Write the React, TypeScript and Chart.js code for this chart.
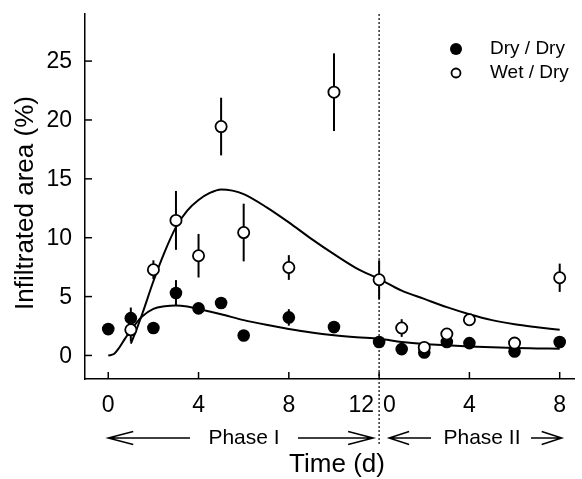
import React, { useEffect, useRef } from "react";
import { Chart, registerables } from "chart.js";

Chart.register(...registerables);

// ---- Data (Phase II days are plotted after an offset of 12 d) ----
const phase2Offset = 12;

const dryP1Days = [0, 1, 2, 3, 4, 5, 6, 8, 10, 12];
const dryP1 = [2.24, 3.17, 2.33, 5.3, 4.0, 4.45, 1.7, 3.23, 2.41, 1.14];
const dryP1Err = [0, 0.9, 0, 1.1, 0, 0, 0, 0.7, 0, 0];

const wetP1Days = [1, 2, 3, 4, 5, 6, 8, 10, 12];
const wetP1 = [2.18, 7.28, 11.47, 8.47, 19.44, 10.44, 7.47, 22.36, 6.43];
const wetP1Err = [1.0, 0.8, 2.5, 1.85, 2.45, 2.45, 1.05, 3.3, 1.65];

const p2Days = [1, 2, 3, 4, 6, 8];
const dryP2 = [0.54, 0.25, 1.14, 1.05, 0.34, 1.14];
const dryP2Err = [0, 0, 0, 0, 0, 0];
const wetP2 = [2.33, 0.68, 1.82, 3.03, 1.05, 6.6];
const wetP2Err = [0.75, 0, 0, 0, 0, 1.2];

// fitted curves (x on the combined axis)
const dryFitX = [0, 0.25, 0.5, 0.75, 1, 1.5, 2, 2.5, 3, 3.5, 4, 5, 6, 7, 8, 9, 10, 11, 12, 13, 14, 15, 16, 17, 18, 19, 20];
const dryFitY = [0, 0.12, 0.7, 1.45, 2.15, 3.3, 3.95, 4.17, 4.24, 4.15, 3.95, 3.5, 3.0, 2.6, 2.25, 1.95, 1.72, 1.55, 1.42, 1.15, 0.97, 0.86, 0.77, 0.7, 0.64, 0.6, 0.56];
const wetFitX = [1, 1.25, 1.5, 2, 2.5, 3, 3.5, 4, 4.5, 5, 5.5, 6, 7, 8, 9, 10, 11, 12, 13, 14, 15, 16, 17, 18, 19, 20];
const wetFitY = [1.0, 2.2, 3.5, 6.3, 8.8, 10.9, 12.3, 13.2, 13.8, 14.1, 14.0, 13.7, 12.6, 11.3, 9.9, 8.6, 7.4, 6.5, 5.5, 4.8, 4.1, 3.5, 3.0, 2.65, 2.4, 2.18];

// tick labels
const yTicks = [0, 5, 10, 15, 20, 25];
const xTickPos = [0, 4, 8, 16, 20];
const xTickLabels = ["0", "4", "8", "4", "8"];
const boundaryLabels = ["12", "0"];

const seriesNames = ["Dry / Dry", "Wet / Dry"];
const phaseNames = ["Phase I", "Phase II"];
const xTitle = "Time (d)";
const yTitle = "Infiltrated area (%)";

const FONT = '"Liberation Sans", Arial, Helvetica, sans-serif';

export default function App() {
  const ref = useRef<HTMLCanvasElement | null>(null);

  useEffect(() => {
    document.body.style.margin = "0";
    const canvas = ref.current;
    if (!canvas) return;

    const dryPts = [
      ...dryP1Days.map((d, i) => ({ x: d, y: dryP1[i], e: dryP1Err[i] })),
      ...p2Days.map((d, i) => ({ x: d + phase2Offset, y: dryP2[i], e: dryP2Err[i] })),
    ];
    const wetPts = [
      ...wetP1Days.map((d, i) => ({ x: d, y: wetP1[i], e: wetP1Err[i] })),
      ...p2Days.map((d, i) => ({ x: d + phase2Offset, y: wetP2[i], e: wetP2Err[i] })),
    ];

    const drawArrow = (ctx: CanvasRenderingContext2D, x1: number, x2: number, y: number, headAt: "left" | "right", hl: number) => {
      ctx.beginPath();
      ctx.moveTo(x1, y);
      ctx.lineTo(x2, y);
      const hx = headAt === "left" ? x1 : x2;
      const dir = headAt === "left" ? 1 : -1;
      ctx.moveTo(hx + dir * hl, y - 6.5);
      ctx.lineTo(hx, y);
      ctx.lineTo(hx + dir * hl, y + 6.5);
      ctx.stroke();
    };

    const custom = {
      id: "custom",
      beforeDatasetsDraw(chart: any) {
        const ctx = chart.ctx as CanvasRenderingContext2D;
        const xs = chart.scales.x;
        const ys = chart.scales.y;
        ctx.save();
        // dotted phase boundary
        const bx = xs.getPixelForValue(phase2Offset);
        ctx.strokeStyle = "#333";
        ctx.lineWidth = 1.5;
        ctx.setLineDash([2, 2]);
        ctx.beginPath();
        ctx.moveTo(bx, chart.chartArea.top);
        ctx.lineTo(bx, 446);
        ctx.stroke();
        ctx.setLineDash([]);
        // error bars
        ctx.strokeStyle = "#000";
        ctx.lineWidth = 2;
        [...dryPts, ...wetPts].forEach((p) => {
          if (!p.e) return;
          const px = xs.getPixelForValue(p.x);
          ctx.beginPath();
          ctx.moveTo(px, ys.getPixelForValue(p.y - p.e));
          ctx.lineTo(px, ys.getPixelForValue(p.y + p.e));
          ctx.stroke();
        });
        ctx.restore();
      },
      afterDraw(chart: any) {
        const ctx = chart.ctx as CanvasRenderingContext2D;
        const xs = chart.scales.x;
        const ys = chart.scales.y;
        const area = chart.chartArea;
        ctx.save();
        ctx.strokeStyle = "#000";
        ctx.fillStyle = "#000";
        ctx.lineWidth = 1.5;
        // y ticks (inward)
        yTicks.forEach((v) => {
          const py = ys.getPixelForValue(v);
          ctx.beginPath();
          ctx.moveTo(area.left, py);
          ctx.lineTo(area.left + 7, py);
          ctx.stroke();
        });
        // x ticks (inward)
        [...xTickPos, phase2Offset].forEach((v) => {
          const px = xs.getPixelForValue(v);
          ctx.beginPath();
          ctx.moveTo(px, area.bottom);
          ctx.lineTo(px, area.bottom - 7);
          ctx.stroke();
        });
        // y tick labels
        ctx.font = `23px ${FONT}`;
        ctx.textAlign = "right";
        ctx.textBaseline = "middle";
        yTicks.forEach((v) => {
          ctx.fillText(String(v), area.left - 13, ys.getPixelForValue(v) + 1);
        });
        // x tick labels
        ctx.textAlign = "center";
        const ly = area.bottom + 27;
        xTickPos.forEach((v, i) => {
          ctx.fillText(xTickLabels[i], xs.getPixelForValue(v), ly);
        });
        const bx = xs.getPixelForValue(phase2Offset);
        ctx.textAlign = "right";
        ctx.fillText(boundaryLabels[0], bx - 5, ly);
        ctx.textAlign = "left";
        ctx.fillText(boundaryLabels[1], bx + 4, ly);
        // phase row
        const py = 438;
        ctx.font = `21px ${FONT}`;
        ctx.textAlign = "center";
        ctx.fillText(phaseNames[0], 244, py);
        ctx.fillText(phaseNames[1], 482, py);
        ctx.lineWidth = 1.5;
        drawArrow(ctx, xs.getPixelForValue(0), 190, py, "left", 25);
        drawArrow(ctx, 298, bx - 6, py, "right", 25);
        drawArrow(ctx, bx + 10, 431, py, "left", 20);
        drawArrow(ctx, 531, xs.getPixelForValue(20) + 2, py, "right", 20);
        // axis titles
        ctx.font = `26px ${FONT}`;
        ctx.textAlign = "center";
        ctx.fillText(xTitle, 337, 465);
        ctx.save();
        ctx.translate(26, 203);
        ctx.rotate(-Math.PI / 2);
        ctx.fillText(yTitle, 0, 0);
        ctx.restore();
        // legend
        ctx.font = `19px ${FONT}`;
        ctx.textAlign = "left";
        ctx.beginPath();
        ctx.arc(456, 49, 6, 0, Math.PI * 2);
        ctx.fill();
        ctx.fillText(seriesNames[0], 490, 49);
        ctx.beginPath();
        ctx.arc(456, 73, 4.5, 0, Math.PI * 2);
        ctx.fillStyle = "#fff";
        ctx.fill();
        ctx.lineWidth = 1.8;
        ctx.stroke();
        ctx.fillStyle = "#000";
        ctx.fillText(seriesNames[1], 490, 73);
        ctx.restore();
      },
    };

    const chart = new Chart(canvas, {
      type: "scatter",
      data: {
        datasets: [
          {
            label: seriesNames[1],
            data: wetPts,
            pointRadius: 5.6,
            pointBackgroundColor: "#fff",
            pointBorderColor: "#000",
            pointBorderWidth: 1.8,
            order: 0,
          },
          {
            label: seriesNames[0],
            data: dryPts,
            pointRadius: 6.3,
            pointBackgroundColor: "#000",
            pointBorderColor: "#000",
            pointBorderWidth: 0,
            order: 1,
          },
          {
            label: "fit wet",
            data: wetFitX.map((x, i) => ({ x, y: wetFitY[i] })),
            showLine: true,
            pointRadius: 0,
            borderColor: "#000",
            borderWidth: 2,
            cubicInterpolationMode: "monotone",
            order: 2,
          },
          {
            label: "fit dry",
            data: dryFitX.map((x, i) => ({ x, y: dryFitY[i] })),
            showLine: true,
            pointRadius: 0,
            borderColor: "#000",
            borderWidth: 2,
            cubicInterpolationMode: "monotone",
            order: 3,
          },
        ],
      },
      options: {
        animation: false,
        responsive: false,
        devicePixelRatio: 1,
        layout: { padding: { top: 14, right: 0, left: 0, bottom: 0 } },
        plugins: { legend: { display: false }, tooltip: { enabled: false } },
        scales: {
          x: {
            type: "linear",
            min: -1.03,
            max: 20.66,
            grid: { display: false },
            ticks: { display: false },
            border: { display: true, color: "#000", width: 1.5 },
            afterFit: (s: any) => {
              s.height = 100;
            },
          },
          y: {
            type: "linear",
            min: -2,
            max: 29,
            grid: { display: false },
            ticks: { display: false },
            border: { display: true, color: "#000", width: 1.5 },
            afterFit: (s: any) => {
              s.width = 85;
            },
          },
        },
      },
      plugins: [custom],
    } as any);

    return () => chart.destroy();
  }, []);

  return (
    <div style={{ position: "absolute", left: 0, top: 0, width: 582, height: 479, background: "#fff" }}>
      <canvas ref={ref} width={582} height={479} style={{ display: "block", width: 582, height: 479 }} />
    </div>
  );
}
